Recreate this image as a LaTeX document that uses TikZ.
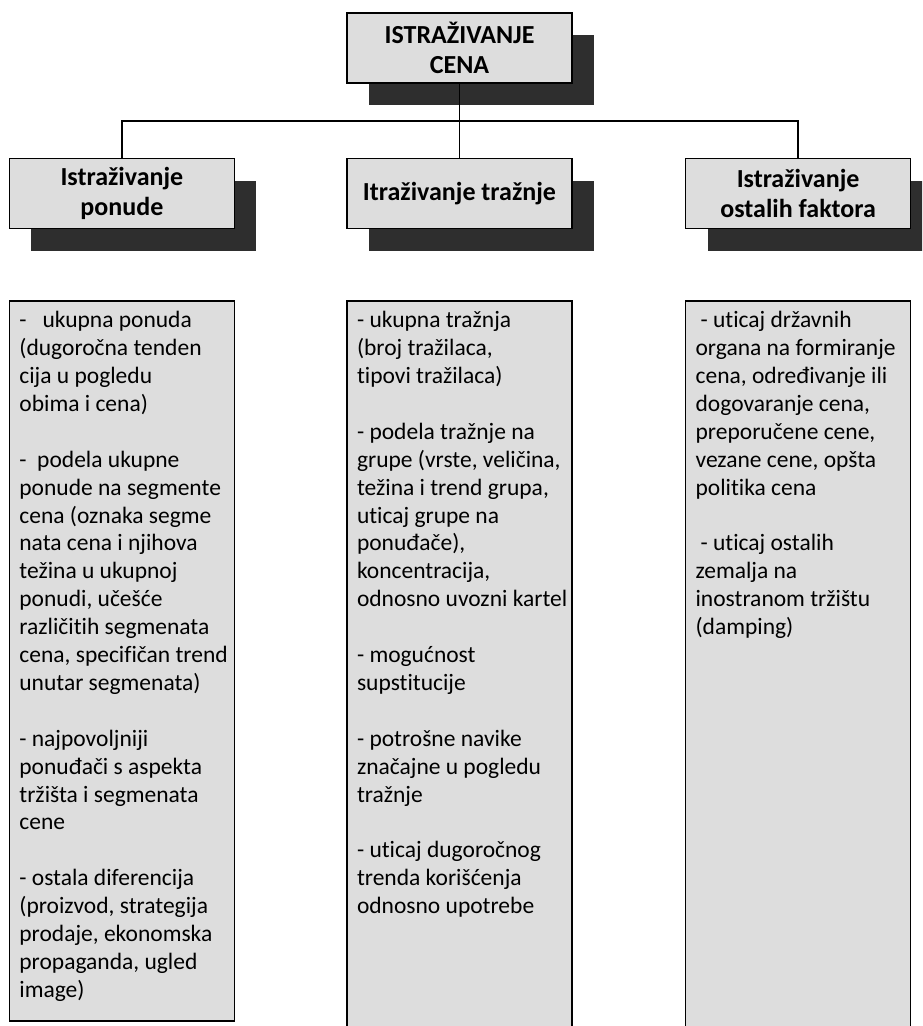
\documentclass[tikz,border=0pt]{standalone}
\usepackage{fontspec}
\setmainfont{Carlito}[Ligatures=NoCommon]
\usepackage{xcolor}
\usetikzlibrary{positioning,shadows,calc}
\definecolor{boxgray}{HTML}{DDDDDD}
\definecolor{shadowgray}{HTML}{2E2E2E}
\newcommand{\boxlines}[2]{\parbox[t][#1][t]{205pt}{\begin{tabular}[t]{@{}l@{}}#2\end{tabular}}}

\begin{document}
\begin{tikzpicture}[
  node distance=74pt and 111pt,
  headbox/.style={draw,line width=1.6pt,fill=boxgray,minimum width=225pt,minimum height=70pt,
                  align=center,inner sep=2pt,font=\fontsize{26}{30}\selectfont\bfseries,
                  drop shadow={shadow xshift=22pt,shadow yshift=-22pt,fill=shadowgray,opacity=1}},
  listbox/.style={draw,line width=1.6pt,fill=boxgray,inner xsep=10pt,inner ysep=7pt,
                  font=\fontsize{23.5}{27.9}\selectfont},
  link/.style={line width=1.6pt}
]
\useasboundingbox (0,0) rectangle (922pt,-1026pt);
\clip (0,0) rectangle (922pt,-1026pt);

% headings
\node[headbox] (cena) at (459.5pt,-48pt) {ISTRAŽIVANJE\\CENA};
\node[headbox,below=of cena] (trazn) {Itraživanje tražnje};
\node[headbox,left=of trazn] (ponuda) {Istraživanje\\ponude};
\node[headbox,right=112pt of trazn] (faktori) {Istraživanje\\ostalih faktora};

% lists
\node[listbox,below=71pt of ponuda] (ponudaList) {\boxlines{706pt}{%
-\ \ \ ukupna ponuda\\
(dugoročna tenden\\
cija u pogledu\\
obima i cena)\\
\\
-\ \ podela ukupne\\
ponude na segmente\\
cena (oznaka segme\\
nata cena i njihova\\
težina u ukupnoj\\
ponudi, učešće\\
različitih segmenata\\
cena, specifičan trend\\
unutar segmenata)\\
\\
- najpovoljniji\\
ponuđači s aspekta\\
tržišta i segmenata\\
cene\\
\\
- ostala diferencija\\
(proizvod, strategija\\
prodaje, ekonomska\\
propaganda, ugled\\
image)}};
\node[listbox,below=71pt of trazn] (traznList) {\boxlines{760pt}{%
- ukupna tražnja\\
(broj tražilaca,\\
tipovi tražilaca)\\
\\
- podela tražnje na\\
grupe (vrste, veličina,\\
težina i trend grupa,\\
uticaj grupe na\\
ponuđače),\\
koncentracija,\\
odnosno uvozni kartel\\
\\
- mogućnost\\
supstitucije\\
\\
- potrošne navike\\
značajne u pogledu\\
tražnje\\
\\
- uticaj dugoročnog\\
trenda korišćenja\\
odnosno upotrebe}};
\node[listbox,below=71pt of faktori] (faktoriList) {\boxlines{760pt}{%
\hspace{5pt}- uticaj državnih\\
organa na formiranje\\
cena, određivanje ili\\
dogovaranje cena,\\
preporučene cene,\\
vezane cene, opšta\\
politika cena\\
\\
\hspace{5pt}- uticaj ostalih\\
zemalja na\\
inostranom tržištu\\
(damping)}};

% connectors
\coordinate (bus) at ($(cena.south)!0.5!(trazn.north)$);
\draw[link] (cena.south) -- (trazn.north);
\draw[link] (ponuda.north) |- (bus) -| (faktori.north);
\end{tikzpicture}
\end{document}
